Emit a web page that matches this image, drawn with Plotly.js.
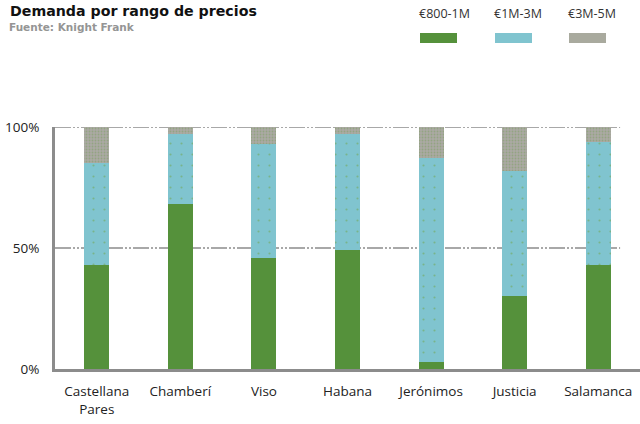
<!DOCTYPE html>
<html>
<head>
<meta charset="utf-8">
<script src="https://cdn.plot.ly/plotly-3.0.1.min.js"></script>
<style>html,body{margin:0;padding:0;background:#fff;}#chart{width:640px;height:424px;}</style>
</head>
<body>
<div id="chart"></div>
<script>
// Data
const categories = ["Castellana<br>Pares", "Chamberí", "Viso", "Habana", "Jerónimos", "Justicia", "Salamanca"];
const seriesNames = ["€800-1M", "€1M-3M", "€3M-5M"];
const s800_1M = [43, 68, 46, 49, 3, 30, 43];
const s1M_3M = [42, 29, 47, 48, 84, 52, 51];
const s3M_5M = [15, 3, 7, 3, 13, 18, 6];
const yTicks = [0, 50, 100];
const yTickLabels = ["0%", "50%", "100%"];

const colors = ["#55913b", "#80c4cf", "#a9aa9e"];
const patterns = [
  {shape: ""},
  {shape: ".", fgcolor: "#78b48a", bgcolor: "#80c4cf", size: 11, solidity: 0.03},
  {shape: ".", fgcolor: "#93a482", bgcolor: "#acaaa4", size: 3, solidity: 0.3}
];
const values = [s800_1M, s1M_3M, s3M_5M];

const traces = values.map((v, i) => ({
  type: "bar",
  x: categories,
  y: v,
  name: seriesNames[i],
  marker: {color: colors[i], line: {width: 0}, pattern: patterns[i]},
  showlegend: false,
  hoverinfo: "none"
}));

const shapes = [];
// dashed grid lines at 50% and 100%
yTicks.filter(t => t > 0).forEach(t => {
  shapes.push({type: "line", xref: "paper", yref: "y", x0: 0, x1: 0.966, y0: t, y1: t,
    line: {color: "#a8a8a8", width: 2, dash: "16px,2px,2px,2px,2px,2px"}, layer: "below"});
});

// custom legend: labels above swatches
const legX = [420, 495, 569];
const legW = 37;
const annotations = [];
annotations.push({text: "<b>Demanda por rango de precios</b>", xref: "paper", yref: "paper",
  x: (8 - 55) / 585, y: 1 + (127 - 11) / 242, xanchor: "left", yanchor: "middle", showarrow: false,
  font: {family: "DejaVu Sans", size: 14.2, color: "#111"}});
annotations.push({text: "<b>Fuente: Knight Frank</b>", xref: "paper", yref: "paper",
  x: (7 - 55) / 585, y: 1 + (127 - 27) / 242, xanchor: "left", yanchor: "middle", showarrow: false,
  font: {family: "DejaVu Sans", size: 10.5, color: "#959595"}});
seriesNames.forEach((n, i) => {
  annotations.push({text: n, xref: "paper", yref: "paper",
    x: (legX[i] - 3 - 55) / 585, y: 1 + (127 - 14) / 242, xanchor: "left", yanchor: "middle", showarrow: false,
    font: {family: "Open Sans", size: 12.5, color: "#333"}});
  shapes.push({type: "rect", xref: "paper", yref: "paper",
    x0: (legX[i] - 55) / 585, x1: (legX[i] + legW - 55) / 585,
    y0: 1 + (127 - 43) / 242, y1: 1 + (127 - 33) / 242,
    fillcolor: colors[i], line: {width: 0}});
});

const layout = {
  width: 640, height: 424,
  margin: {l: 55, r: 0, t: 127, b: 55},
  paper_bgcolor: "#fff", plot_bgcolor: "#fff",
  barmode: "stack",
  bargap: 0.7,
  xaxis: {
    type: "category",
    showgrid: false, zeroline: false,
    showline: true, linecolor: "#8c8c8c", linewidth: 3,
    ticks: "outside", ticklen: 8, tickcolor: "rgba(0,0,0,0)",
    tickfont: {family: "Open Sans", size: 13.5, color: "#222"},
    fixedrange: true
  },
  yaxis: {
    range: [0, 100],
    tickvals: yTicks, ticktext: yTickLabels,
    showgrid: false, zeroline: false,
    showline: true, linecolor: "#8c8c8c", linewidth: 3,
    ticks: "outside", ticklen: 10, tickcolor: "rgba(0,0,0,0)",
    tickfont: {family: "Open Sans", size: 13.5, color: "#222"},
    fixedrange: true
  },
  shapes: shapes,
  annotations: annotations,
  showlegend: false
};

Plotly.newPlot("chart", traces, layout, {displayModeBar: false, staticPlot: true});
</script>
</body>
</html>
